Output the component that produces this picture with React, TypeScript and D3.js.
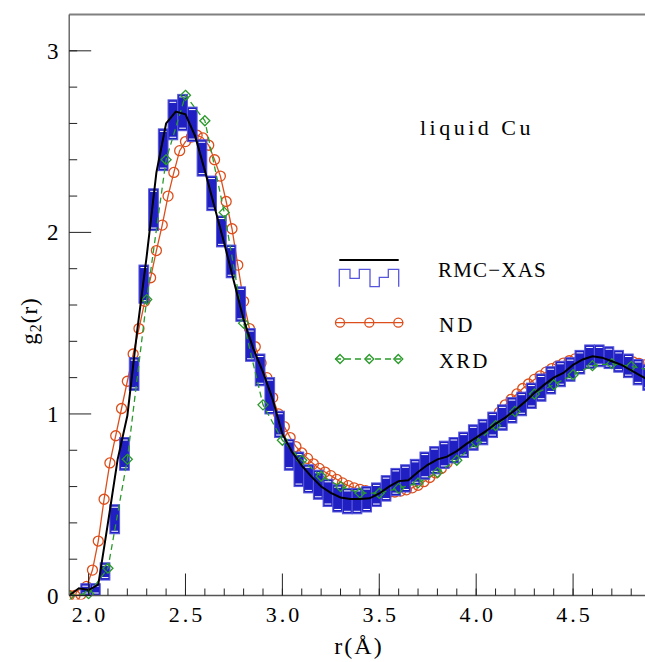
import * as d3 from 'd3'

const width = 645
const height = 662

// RMC-XAS average curve, every 0.05 A
const rmcR = [1.9, 1.95, 2.0, 2.05, 2.1, 2.15, 2.2, 2.25, 2.3, 2.35, 2.4, 2.45, 2.5, 2.55, 2.6, 2.65, 2.7, 2.75, 2.8, 2.85, 2.9, 2.95,
  3.0, 3.05, 3.1, 3.15, 3.2, 3.25, 3.3, 3.35, 3.4, 3.45, 3.5, 3.55, 3.6, 3.65, 3.7, 3.75, 3.8, 3.85, 3.9, 3.95,
  4.0, 4.05, 4.1, 4.15, 4.2, 4.25, 4.3, 4.35, 4.4, 4.45, 4.5, 4.55, 4.6, 4.65, 4.7, 4.75, 4.8, 4.85, 4.9]
const rmcG = [0.0, 0.04, 0.03, 0.06, 0.4, 0.75, 0.99, 1.45, 1.87, 2.33, 2.6, 2.665, 2.65, 2.53, 2.34, 2.14, 1.94, 1.73, 1.52, 1.36, 1.23, 1.08,
  0.89, 0.79, 0.715, 0.655, 0.6, 0.565, 0.54, 0.532, 0.532, 0.535, 0.562, 0.6, 0.63, 0.635, 0.68, 0.72, 0.75, 0.765, 0.795, 0.835,
  0.87, 0.905, 0.945, 0.98, 1.02, 1.065, 1.115, 1.16, 1.2, 1.226, 1.27, 1.3, 1.318, 1.31, 1.29, 1.27, 1.24, 1.21, 1.18]

// spread of the RMC-XAS histograms: bin start, lowest and highest value
const binWidth = 0.05
const binStart = [1.96, 2.01, 2.06, 2.11, 2.16, 2.21, 2.26, 2.31, 2.36, 2.41, 2.46, 2.51, 2.56, 2.61, 2.66, 2.71, 2.76, 2.81, 2.86, 2.91,
  2.96, 3.01, 3.06, 3.11, 3.16, 3.21, 3.26, 3.31, 3.36, 3.41, 3.46, 3.51, 3.56, 3.61, 3.66, 3.71, 3.76, 3.81, 3.86, 3.91,
  3.96, 4.01, 4.06, 4.11, 4.16, 4.21, 4.26, 4.31, 4.36, 4.41, 4.46, 4.51, 4.56, 4.61, 4.66, 4.71, 4.76, 4.81, 4.86]
const binLo = [0.0, 0.0, 0.085, 0.34, 0.69, 1.13, 1.61, 2.01, 2.34, 2.51, 2.56, 2.5, 2.31, 2.12, 1.92, 1.75, 1.51, 1.29, 1.155, 1.0,
  0.87, 0.69, 0.6, 0.565, 0.53, 0.49, 0.46, 0.45, 0.45, 0.46, 0.49, 0.52, 0.55, 0.57, 0.61, 0.64, 0.67, 0.7, 0.73, 0.76,
  0.8, 0.83, 0.87, 0.91, 0.95, 0.99, 1.03, 1.07, 1.11, 1.15, 1.18, 1.22, 1.25, 1.26, 1.25, 1.23, 1.2, 1.16, 1.13]
const binHi = [0.065, 0.065, 0.18, 0.5, 0.87, 1.31, 1.82, 2.24, 2.57, 2.73, 2.76, 2.69, 2.51, 2.31, 2.09, 1.93, 1.7, 1.47, 1.33, 1.2,
  1.015, 0.86, 0.79, 0.72, 0.69, 0.64, 0.61, 0.59, 0.59, 0.6, 0.62, 0.66, 0.7, 0.72, 0.75, 0.79, 0.82, 0.85, 0.87, 0.9,
  0.94, 0.97, 1.01, 1.05, 1.09, 1.12, 1.17, 1.22, 1.26, 1.29, 1.31, 1.35, 1.38, 1.38, 1.37, 1.35, 1.33, 1.3, 1.27]

// neutron diffraction
const ndR = [1.9, 1.93, 1.96, 1.99, 2.02, 2.05, 2.08, 2.11, 2.14, 2.17, 2.2, 2.23, 2.26, 2.29, 2.32, 2.35, 2.38, 2.41, 2.44, 2.47,
  2.5, 2.53, 2.56, 2.59, 2.62, 2.65, 2.68, 2.71, 2.74, 2.77, 2.8, 2.83, 2.86, 2.89, 2.92, 2.95, 2.98,
  3.01, 3.04, 3.07, 3.1, 3.13, 3.16, 3.19, 3.22, 3.25, 3.28, 3.31, 3.34, 3.37, 3.4, 3.43, 3.46, 3.49, 3.52, 3.55, 3.58,
  3.61, 3.64, 3.67, 3.7, 3.73, 3.76, 3.79, 3.82, 3.85, 3.88, 3.91, 3.94, 3.97, 4.0, 4.03, 4.06, 4.09, 4.12, 4.15, 4.18,
  4.21, 4.24, 4.27, 4.3, 4.33, 4.36, 4.39, 4.42, 4.45, 4.48, 4.51, 4.54, 4.57, 4.6, 4.63, 4.66, 4.69, 4.72, 4.75, 4.78,
  4.81, 4.84, 4.87, 4.9]
const ndG = [0.0, 0.0, 0.005, 0.05, 0.14, 0.3, 0.53, 0.73, 0.88, 1.03, 1.18, 1.33, 1.47, 1.62, 1.75, 1.9, 2.04, 2.2, 2.33, 2.45,
  2.5, 2.525, 2.535, 2.52, 2.48, 2.4, 2.31, 2.17, 2.02, 1.82, 1.62, 1.47, 1.37, 1.28, 1.2, 1.09, 1.0,
  0.93, 0.87, 0.82, 0.785, 0.755, 0.725, 0.7, 0.68, 0.66, 0.64, 0.62, 0.605, 0.593, 0.585, 0.577, 0.571, 0.568, 0.567, 0.568, 0.57,
  0.575, 0.582, 0.593, 0.607, 0.627, 0.65, 0.675, 0.7, 0.73, 0.76, 0.79, 0.82, 0.85, 0.88, 0.91, 0.94, 0.975, 1.01, 1.05, 1.08,
  1.11, 1.14, 1.165, 1.19, 1.21, 1.23, 1.25, 1.265, 1.28, 1.293, 1.303, 1.311, 1.317, 1.32, 1.32, 1.318, 1.314, 1.308, 1.301, 1.293,
  1.286, 1.278, 1.27, 1.265]

// x-ray diffraction
const xrdR = [1.9, 2.0, 2.1, 2.2, 2.3, 2.4, 2.5, 2.6, 2.7, 2.8, 2.9, 3.0, 3.1, 3.2, 3.3, 3.4, 3.5, 3.6, 3.7, 3.8, 3.9,
  4.0, 4.1, 4.2, 4.3, 4.4, 4.5, 4.6, 4.7, 4.8, 4.9]
const xrdG = [0.0, 0.01, 0.15, 0.75, 1.63, 2.4, 2.755, 2.615, 2.11, 1.5, 1.05, 0.855, 0.745, 0.657, 0.6, 0.565, 0.563, 0.59, 0.62, 0.677, 0.745,
  0.844, 0.936, 1.014, 1.11, 1.161, 1.216, 1.266, 1.277, 1.262, 1.24]

const xTicks = [2.0, 2.5, 3.0, 3.5, 4.0, 4.5]
const xMinor = [2.0, 2.1, 2.2, 2.3, 2.4, 2.5, 2.6, 2.7, 2.8, 2.9, 3.0, 3.1, 3.2, 3.3, 3.4, 3.5, 3.6, 3.7, 3.8, 3.9, 4.0, 4.1, 4.2, 4.3, 4.4, 4.5, 4.6, 4.7, 4.8]
const yTicks = [0, 1, 2, 3]
const yMinor = [0.2, 0.4, 0.6, 0.8, 1.2, 1.4, 1.6, 1.8, 2.2, 2.4, 2.6, 2.8, 3.0]

const orange = '#dc4f1c'
const green = '#2a9a2a'
const blue = '#2020c2'
const blueLine = '#5656dc'
const font = '"Liberation Serif", "DejaVu Serif", serif'

function App() {
  const xScale = d3.scaleLinear().domain([1.9, 4.9]).range([69.2, 650.6])
  const yScale = d3.scaleLinear().domain([0, 3.2]).range([595.5, 14.5])
  const x0 = 69.2
  const y0 = 595.5
  const yTop = 14.5

  const line = d3.line<[number, number]>()
    .x((d) => xScale(d[0]))
    .y((d) => yScale(d[1]))

  const rmc: [number, number][] = rmcR.map((r, i) => [r, rmcG[i]])
  const nd: [number, number][] = ndR.map((r, i) => [r, ndG[i]])
  const xrd: [number, number][] = xrdR.map((r, i) => [r, xrdG[i]])

  const diamond = (cx: number, cy: number, s: number) =>
    `M${cx},${cy - s}L${cx + s},${cy}L${cx},${cy + s}L${cx - s},${cy}Z`

  // legend step symbol
  const legStep = 'M339.3,286.7V269.3H350V278.3H359.3V269.3H370V286.7H379.3V277.3H388.3V269.3H398.7V286.7'

  return (
    <svg width={width} height={height} style={{ position: 'absolute', left: 0, top: 0, background: '#fff' }}>
      <rect width={width} height={height} fill="#fff" />
      <defs>
        <clipPath id="plot">
          <rect x={x0} y={yTop} width={width - x0} height={y0 - yTop + 4} />
        </clipPath>
      </defs>

      <g clipPath="url(#plot)">
        {/* ND */}
        <path d={line(nd) || ''} fill="none" stroke={orange} strokeWidth={1.3} />
        {nd.map((d, i) => (
          <circle key={i} cx={xScale(d[0])} cy={yScale(d[1])} r={5} fill="none" stroke={orange} strokeWidth={1.3} />
        ))}

        {/* RMC-XAS spread */}
        {binStart.map((b, i) => {
          const xa = xScale(b)
          const xb = xScale(b + binWidth)
          const ya = yScale(binHi[i])
          const yb = yScale(binLo[i])
          const h = yb - ya
          return (
            <g key={i}>
              <rect x={xa} y={ya} width={xb - xa} height={h} fill={blue} stroke={blueLine} strokeWidth={1} />
              {h > 8 && (
                <>
                  <line x1={xa + 1.5} x2={xb - 1.5} y1={ya + 2.5} y2={ya + 2.5} stroke="#fff" strokeWidth={1} />
                  <line x1={xa + 1.5} x2={xb - 1.5} y1={yb - 2.5} y2={yb - 2.5} stroke="#fff" strokeWidth={1} />
                </>
              )}
            </g>
          )
        })}

        {/* XRD */}
        <path d={line(xrd) || ''} fill="none" stroke={green} strokeWidth={1.3} strokeDasharray="6,4" />
        {xrd.map((d, i) => (
          <path key={i} d={diamond(xScale(d[0]), yScale(d[1]), 5)} fill="none" stroke={green} strokeWidth={1.3} />
        ))}

        {/* RMC-XAS average */}
        <path d={line(rmc) || ''} fill="none" stroke="#000" strokeWidth={2} />
      </g>

      {/* axes */}
      <line x1={x0} x2={width} y1={yTop} y2={yTop} stroke="#808080" strokeWidth={2} />
      <line x1={x0} x2={x0} y1={yTop} y2={y0} stroke="#555" strokeWidth={1.3} />
      <line x1={x0} x2={width} y1={y0} y2={y0} stroke="#555" strokeWidth={1.3} />
      {xMinor.map((t) => (
        <line key={t} x1={xScale(t)} x2={xScale(t)} y1={y0} y2={y0 - 7} stroke="#222" strokeWidth={1} />
      ))}
      {xTicks.map((t) => (
        <g key={t}>
          <line x1={xScale(t)} x2={xScale(t)} y1={y0} y2={y0 - 22} stroke="#222" strokeWidth={1} />
          <text x={xScale(t) + 1.5} y={622} textAnchor="middle" fontFamily={font} fontSize={22} letterSpacing={3}>{t.toFixed(1)}</text>
        </g>
      ))}
      {yMinor.map((t) => (
        <line key={t} x1={x0} x2={x0 + 8} y1={yScale(t)} y2={yScale(t)} stroke="#222" strokeWidth={1} />
      ))}
      {yTicks.map((t) => (
        <g key={t}>
          <line x1={x0} x2={x0 + 22} y1={yScale(t)} y2={yScale(t)} stroke="#222" strokeWidth={1} />
          <text x={58.5} y={yScale(t)} dy="0.35em" textAnchor="end" fontFamily={font} fontSize={23}>{t}</text>
        </g>
      ))}

      <text x={359} y={654} textAnchor="middle" fontFamily={font} fontSize={24} letterSpacing={2}>r(Å)</text>
      <text transform="translate(37,321) rotate(-90)" textAnchor="middle" fontFamily={font} fontSize={23} letterSpacing={1}>
        g<tspan fontSize={16} dy={4}>2</tspan><tspan dy={-4}>(r)</tspan>
      </text>

      <text x={420} y={135} fontFamily={font} fontSize={22} letterSpacing={3.5}>liquid Cu</text>

      {/* legend */}
      <line x1={339.3} x2={398.7} y1={260} y2={260} stroke="#000" strokeWidth={2} />
      <path d={legStep} fill="none" stroke={blueLine} strokeWidth={1.3} />
      <text x={438} y={277} fontFamily={font} fontSize={21} letterSpacing={1.2}>RMC−XAS</text>

      <line x1={335} x2={403.3} y1={322.7} y2={322.7} stroke={orange} strokeWidth={1.3} />
      {[340, 369.3, 398.3].map((cx) => (
        <circle key={cx} cx={cx} cy={322.7} r={4.5} fill="none" stroke={orange} strokeWidth={1.3} />
      ))}
      <text x={439} y={332} fontFamily={font} fontSize={21} letterSpacing={3}>ND</text>

      <line x1={335} x2={403.3} y1={359} y2={359} stroke={green} strokeWidth={1.3} strokeDasharray="6,4" />
      {[340, 369.3, 398.3].map((cx) => (
        <path key={cx} d={diamond(cx, 359, 4.5)} fill="none" stroke={green} strokeWidth={1.3} />
      ))}
      <text x={439} y={368} fontFamily={font} fontSize={21} letterSpacing={2}>XRD</text>
    </svg>
  )
}

export default App
